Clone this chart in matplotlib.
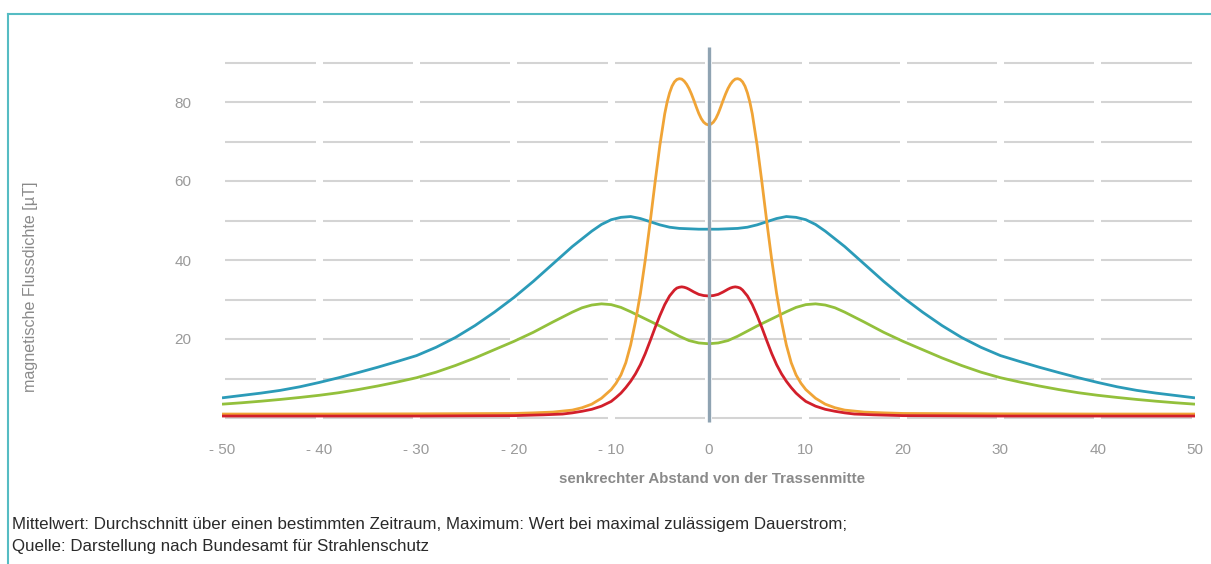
"""
Magnetische Flussdichte quer zur Trasse (vier Kurven, symmetrisch um die Trassenmitte).
"""

import matplotlib
matplotlib.use("Agg")
import matplotlib.pyplot as plt
from matplotlib.lines import Line2D

plt.rcParams["font.family"] = ["Liberation Sans", "DejaVu Sans"]

W, H = 1211, 564

# --- data ----------------------------------------------------------------
blue_x = [-50, -48, -46, -44, -42, -40, -38, -36, -34, -32, -30, -28, -26, -24, -22, -20, -18, -16, -14, -12,
          -11, -10, -9, -8, -7, -6, -5, -4, -3, -2, -1, 0,
          1, 2, 3, 4, 5, 6, 7, 8, 9, 10, 11, 12,
          14, 16, 18, 20, 22, 24, 26, 28, 30, 32, 34, 36, 38, 40, 42, 44, 46, 48, 50]
blue_y = [5.1, 5.7, 6.3, 7.0, 7.9, 9.0, 10.2, 11.5, 12.85, 14.3, 15.8, 17.9, 20.4, 23.4, 26.8, 30.5, 34.6, 39.0, 43.4, 47.3,
          49.0, 50.2, 50.8, 51.0, 50.5, 49.7, 48.9, 48.3, 48.0, 47.9, 47.8, 47.8,
          47.8, 47.9, 48.0, 48.3, 48.9, 49.7, 50.5, 51.0, 50.8, 50.2, 49.0, 47.3,
          43.4, 39.0, 34.6, 30.5, 26.8, 23.4, 20.4, 17.9, 15.8, 14.3, 12.85, 11.5, 10.2, 9.0, 7.9, 7.0, 6.3, 5.7, 5.1]

green_x = [-50, -48, -46, -44, -42, -40, -38, -36, -34, -32, -30, -28, -26, -24, -22, -20, -18, -16, -14,
           -13, -12, -11, -10, -9, -8, -7, -6, -5, -4, -3, -2, -1, 0,
           1, 2, 3, 4, 5, 6, 7, 8, 9, 10, 11, 12, 13,
           14, 16, 18, 20, 22, 24, 26, 28, 30, 32, 34, 36, 38, 40, 42, 44, 46, 48, 50]
green_y = [3.5, 3.85, 4.25, 4.7, 5.2, 5.75, 6.4, 7.2, 8.1, 9.1, 10.2, 11.6, 13.3, 15.2, 17.3, 19.4, 21.7, 24.3, 26.8,
           27.9, 28.6, 28.9, 28.7, 28.0, 26.9, 25.7, 24.5, 23.3, 22.0, 20.7, 19.6, 19.0, 18.8,
           19.0, 19.6, 20.7, 22.0, 23.3, 24.5, 25.7, 26.9, 28.0, 28.7, 28.9, 28.6, 27.9,
           26.8, 24.3, 21.7, 19.4, 17.3, 15.2, 13.3, 11.6, 10.2, 9.1, 8.1, 7.2, 6.4, 5.75, 5.2, 4.7, 4.25, 3.85, 3.5]

orange_x = [-50, -40, -30, -20, -18, -16, -14, -13, -12, -11, -10, -9.5, -9, -8.5, -8, -7.5, -7, -6.5, -6, -5.5,
            -5, -4.5, -4.25, -4, -3.75, -3.5, -3.25, -3, -2.75, -2.5, -2.25, -2, -1.75, -1.5, -1.25, -1, -0.75, -0.5, -0.25, 0,
            0.25, 0.5, 0.75, 1, 1.25, 1.5, 1.75, 2, 2.25, 2.5, 2.75, 3, 3.25, 3.5, 3.75, 4, 4.25, 4.5, 5, 5.5,
            6, 6.5, 7, 7.5, 8, 8.5, 9, 9.5, 10, 11, 12, 13, 14, 16, 18, 20, 30, 40, 50]
orange_y = [1.0, 1.0, 1.05, 1.15, 1.3, 1.5, 2.0, 2.6, 3.5, 5.0, 7.2, 8.8, 10.9, 14.0, 18.5, 24.5, 31.5, 40.0, 49.5, 59.5,
            69.0, 77.0, 80.0, 82.3, 84.0, 85.1, 85.7, 85.9, 85.8, 85.3, 84.5, 83.4, 82.0, 80.4, 78.7, 77.1, 75.8, 74.9, 74.4, 74.2,
            74.4, 74.9, 75.8, 77.1, 78.7, 80.4, 82.0, 83.4, 84.5, 85.3, 85.8, 85.9, 85.7, 85.1, 84.0, 82.3, 80.0, 77.0, 69.0, 59.5,
            49.5, 40.0, 31.5, 24.5, 18.5, 14.0, 10.9, 8.8, 7.2, 5.0, 3.5, 2.6, 2.0, 1.5, 1.3, 1.15, 1.05, 1.0, 1.0]

red_x = [-50, -40, -30, -20, -17, -15, -14, -13, -12, -11, -10, -9.5, -9, -8.5, -8, -7.5, -7, -6.5, -6, -5.5,
         -5, -4.5, -4, -3.5, -3.25, -3, -2.75, -2.5, -2.25, -2, -1.5, -1, -0.5, 0,
         0.5, 1, 1.5, 2, 2.25, 2.5, 2.75, 3, 3.25, 3.5, 4, 4.5, 5, 5.5, 6, 6.5,
         7, 7.5, 8, 8.5, 9, 9.5, 10, 11, 12, 13, 14, 15, 17, 20, 30, 40, 50]
red_y = [0.5, 0.5, 0.5, 0.6, 0.8, 1.0, 1.3, 1.7, 2.2, 3.0, 4.2, 5.2, 6.3, 7.7, 9.3, 11.2, 13.5, 16.3, 19.5, 22.8,
         25.9, 28.7, 30.9, 32.4, 32.9, 33.1, 33.2, 33.1, 32.9, 32.6, 31.9, 31.3, 31.0, 30.9,
         31.0, 31.3, 31.9, 32.6, 32.9, 33.1, 33.2, 33.1, 32.9, 32.4, 30.9, 28.7, 25.9, 22.8, 19.5, 16.3,
         13.5, 11.2, 9.3, 7.7, 6.3, 5.2, 4.2, 3.0, 2.2, 1.7, 1.3, 1.0, 0.8, 0.6, 0.5, 0.5, 0.5]

x_ticks = [-50, -40, -30, -20, -10, 0, 10, 20, 30, 40, 50]
x_tick_labels = ["- 50", "- 40", "- 30", "- 20", "- 10", "0", "10", "20", "30", "40", "50"]
y_ticks = [20, 40, 60, 80]
grid_levels = [0, 10, 20, 30, 40, 50, 60, 70, 80, 90]

x_label = "senkrechter Abstand von der Trassenmitte"
y_label = "magnetische Flussdichte [µT]"
footer = ["Mittelwert: Durchschnitt über einen bestimmten Zeitraum, Maximum: Wert bei maximal zulässigem Dauerstrom;",
          "Quelle: Darstellung nach Bundesamt für Strahlenschutz"]

# --- layout ---------------------------------------------------------------
fig = plt.figure(figsize=(W / 100, H / 100), dpi=100)
fig.patch.set_facecolor("white")

# axes placed so that x=-50..50 -> px 222..1195 and y=0 -> px 418, y=80 -> px 102
ymin, ymax = -2, 95
px_per_unit = (418 - 102) / 80
top_px = 418 - ymax * px_per_unit
bot_px = 418 - ymin * px_per_unit
ax = fig.add_axes([222 / W, 1 - bot_px / H, (1195 - 222) / W, (bot_px - top_px) / H])
ax.set_xlim(-50, 50)
ax.set_ylim(ymin, ymax)
for s in ax.spines.values():
    s.set_visible(False)
ax.patch.set_alpha(0)

# broken horizontal grid lines
grid_color = "#d4d4d4"
for lvl in grid_levels:
    for a in range(-50, 50, 10):
        ax.hlines(lvl, a + 0.35, a + 9.65, color=grid_color, lw=1.5, zorder=1)

line_kw = dict(lw=2.0, solid_joinstyle="round", solid_capstyle="butt")
ax.plot(blue_x, blue_y, color="#2b9bb8", zorder=3, **line_kw)
ax.plot(green_x, green_y, color="#93c03c", zorder=3, **line_kw)
ax.plot(orange_x, orange_y, color="#f0a436", zorder=3, **line_kw)
ax.plot(red_x, red_y, color="#d21f2b", zorder=4, **line_kw)

# centre line
ax.vlines(0, -1, 94, color="#8fa3b2", lw=2.4, zorder=5)

ax.set_xticks(x_ticks)
ax.set_xticklabels(x_tick_labels)
ax.set_yticks(y_ticks)
ax.tick_params(axis="both", length=0, labelsize=11, labelcolor="#9a9a9a")
ax.tick_params(axis="y", pad=22)
ax.tick_params(axis="x", pad=12)

fig.text(712 / W, 1 - 479 / H, x_label, ha="center", va="center",
         fontsize=10.9, color="#8a8a8a", fontweight="bold")
fig.text(31 / W, 1 - 287 / H, y_label, ha="center", va="center", rotation=90,
         fontsize=11.6, color="#8a8a8a")

fig.text(12 / W, 1 - 525 / H, footer[0], ha="left", va="center", fontsize=12.2, color="#2a2a2a")
fig.text(12 / W, 1 - 547 / H, footer[1], ha="left", va="center", fontsize=12.2, color="#2a2a2a")

# teal frame (left and top edge)
frame_color = "#55bcc3"
fig.add_artist(Line2D([8 / W, 8 / W], [0, 1 - 14 / H], transform=fig.transFigure, color=frame_color, lw=1.5))
fig.add_artist(Line2D([8 / W, 1], [1 - 14 / H, 1 - 14 / H], transform=fig.transFigure, color=frame_color, lw=1.5))

fig.savefig("out.png", dpi=100)
